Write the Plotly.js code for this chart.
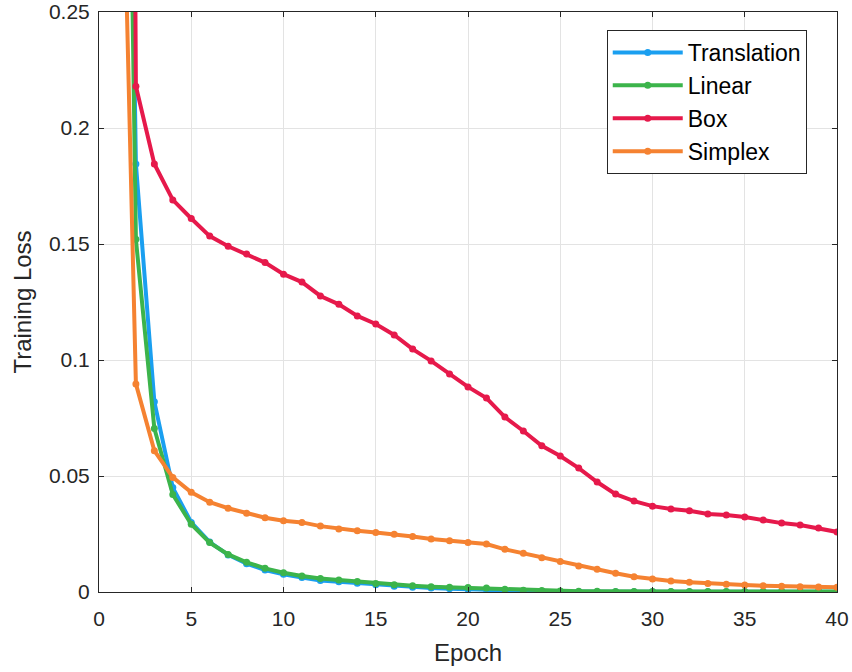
<!DOCTYPE html>
<html>
<head>
<meta charset="utf-8">
<script src="https://cdn.plot.ly/plotly-3.0.1.min.js"></script>
<style>html,body{margin:0;padding:0;background:#fff;}#chart{width:852px;height:672px;}</style>
</head>
<body>
<div id="chart"></div>
<script>
const epochs = [1,2,3,4,5,6,7,8,9,10,11,12,13,14,15,16,17,18,19,20,21,22,23,24,25,26,27,28,29,30,31,32,33,34,35,36,37,38,39,40];

const translation = [0.70,0.1845,0.082,0.045,0.030,0.0215,0.016,0.0122,0.0095,0.0076,0.0062,0.0050,0.0044,0.0038,0.0031,0.0025,0.0021,0.0017,0.0014,0.0012,0.0010,0.0003,0.0002,0.0002,0.0001,0.0001,0.0001,0.0001,0.0001,0.0001,0.0001,0.0001,0.0001,0.0001,0.0001,0.0001,0.0001,0.0001,0.0001,0.0001];

const linear = [0.70,0.152,0.0705,0.042,0.0292,0.0213,0.0162,0.0128,0.0102,0.0083,0.0069,0.0058,0.0052,0.0045,0.0037,0.0031,0.0027,0.0023,0.0020,0.0019,0.0017,0.0012,0.0008,0.0006,0.0004,0.0003,0.0003,0.0002,0.0002,0.0002,0.0002,0.0002,0.0002,0.0002,0.0002,0.0002,0.0002,0.0002,0.0002,0.0002];

const box = [1.5,0.218,0.1845,0.169,0.161,0.1534,0.149,0.1457,0.142,0.137,0.1336,0.1276,0.124,0.119,0.1155,0.1108,0.1047,0.0996,0.094,0.0884,0.0836,0.0754,0.0694,0.063,0.0586,0.0534,0.0474,0.0422,0.0392,0.037,0.0358,0.035,0.0336,0.0332,0.0323,0.031,0.0297,0.0289,0.0276,0.0259];

const simplex = [0.42,0.0897,0.0609,0.0494,0.043,0.0387,0.0361,0.0339,0.032,0.0307,0.030,0.0284,0.0272,0.0264,0.0256,0.0249,0.0239,0.0228,0.0221,0.0213,0.0207,0.0184,0.0167,0.0148,0.0131,0.0112,0.0098,0.0081,0.0066,0.0056,0.0047,0.0042,0.0037,0.0033,0.0030,0.0027,0.0025,0.0023,0.0022,0.0020];

const seriesNames = ["Translation","Linear","Box","Simplex"];
const seriesData = [translation, linear, box, simplex];
const seriesColors = ["#1a9ff0","#3cb44b","#e6194b","#f58231"];

const yTickVals = [0,0.05,0.1,0.15,0.2,0.25];
const yTickText = ["0","0.05","0.1","0.15","0.2","0.25"];
const xTickVals = [0,5,10,15,20,25,30,35,40];

const traces = seriesNames.map((n,i)=>({
  x: epochs, y: seriesData[i], name: n, type: 'scatter', mode: 'lines+markers',
  line: {color: seriesColors[i], width: 4},
  marker: {color: seriesColors[i], size: 7},
  cliponaxis: true
}));

const layout = {
  width: 852, height: 672,
  margin: {l: 99, r: 15, t: 12, b: 80},
  paper_bgcolor: '#fff', plot_bgcolor: '#fff',
  font: {family: 'Liberation Sans, Arial, sans-serif', size: 21, color: '#262626'},
  showlegend: true,
  legend: {
    x: 0.688, y: 0.969, xanchor: 'left', yanchor: 'top',
    bgcolor: '#fff', bordercolor: '#262626', borderwidth: 1,
    font: {size: 23, color: '#000'},
    itemwidth: 70, tracegroupgap: 0
  },
  xaxis: {
    range: [0, 40], tickvals: xTickVals, ticks: 'inside', ticklen: 5, tickcolor: '#262626',
    showline: true, linecolor: '#262626', linewidth: 1, mirror: 'ticks',
    showgrid: true, gridcolor: '#e3e3e3', gridwidth: 1, zeroline: false,
    tickfont: {size: 21, color: '#262626'}, ticklabelstandoff: 8,
    title: {text: 'Epoch', font: {size: 24, color: '#262626'}, standoff: 14}
  },
  yaxis: {
    range: [0, 0.25], tickvals: yTickVals, ticktext: yTickText, ticks: 'inside', ticklen: 5, tickcolor: '#262626',
    showline: true, linecolor: '#262626', linewidth: 1, mirror: 'ticks',
    showgrid: true, gridcolor: '#e3e3e3', gridwidth: 1, zeroline: false,
    tickfont: {size: 21, color: '#262626'}, ticklabelstandoff: 4,
    title: {text: 'Training Loss', font: {size: 24, color: '#262626'}, standoff: 10}
  }
};

Plotly.newPlot('chart', traces, layout, {displayModeBar: false, staticPlot: true});
</script>
</body>
</html>
